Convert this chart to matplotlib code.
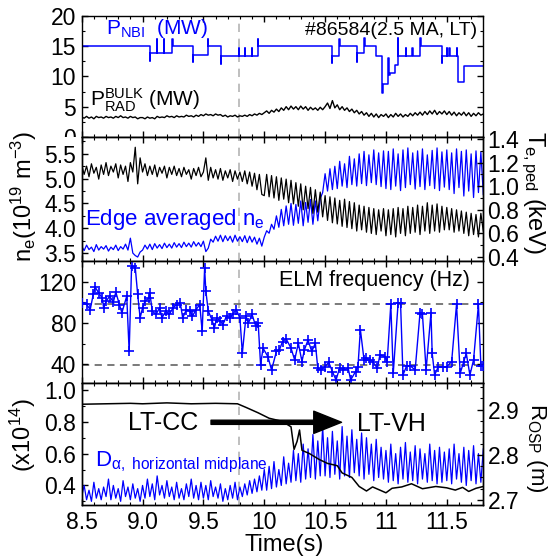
import numpy as np
import matplotlib
matplotlib.use("Agg")
import matplotlib.pyplot as plt
from matplotlib.ticker import MultipleLocator, FixedLocator, FixedFormatter
from matplotlib.transforms import Bbox, TransformedBbox

plt.rcParams['font.family'] = ['Liberation Sans', 'DejaVu Sans']
plt.rcParams['mathtext.fontset'] = 'custom'
plt.rcParams['mathtext.rm'] = 'Liberation Sans'
plt.rcParams['mathtext.it'] = 'Liberation Sans:italic'
plt.rcParams['mathtext.bf'] = 'Liberation Sans:bold'

BLUE = '#0000ff'

t_grid = np.round(8.5 + 0.02 * np.arange(166), 2)

# NBI power (MW), step signal
nbi_t = [8.50, 9.06, 9.063, 9.115, 9.118, 9.175, 9.178, 9.246, 9.249, 9.415,
         9.418, 9.535, 9.538, 9.642, 9.645, 9.79, 9.793, 9.84, 9.843, 9.90,
         9.903, 9.947, 9.95, 10.557, 10.56, 10.617, 10.62, 10.762, 10.765, 10.822,
         10.825, 10.918, 10.970, 10.973, 11.015, 11.021, 11.024, 11.030, 11.076, 11.095,
         11.098, 11.164, 11.167, 11.218, 11.221, 11.281, 11.284, 11.46, 11.463, 11.50,
         11.503, 11.52, 11.523, 11.58, 11.583, 11.595, 11.64, 11.80]
nbi_v = [15.0, 12.6, 13.9, 16.1, 13.9, 16.1, 13.9, 16.1, 15.0, 12.3,
         13.6, 16.1, 15.0, 12.0, 13.3, 14.7, 13.3, 14.7, 13.3, 14.7,
         13.3, 16.1, 15.0, 12.2, 13.3, 16.1, 15.0, 12.4, 13.9, 16.3,
         15.0, 13.3, 7.2, 8.8, 10.3, 13.0, 10.3, 10.5, 11.9, 16.3,
         13.3, 14.6, 13.3, 14.6, 13.3, 16.3, 15.0, 12.2, 13.3, 14.6,
         13.3, 14.6, 13.3, 14.6, 13.3, 9.0, 11.75, 11.75]

# bulk radiated power (MW)
prad = [3.3, 3.1, 3.4, 3.1, 3.3, 3.0, 3.4, 3.2, 3.3, 3.1, 3.4, 3.2, 3.3, 3.1, 3.4, 3.2, 3.5, 3.2, 3.3, 3.1, 3.4, 3.2, 3.3, 3.0, 3.2,
        3.2, 3.0, 3.3, 3.1, 3.2, 3.0, 3.4, 3.2, 3.3, 3.2, 3.5, 3.3, 3.4, 3.2, 3.5, 3.3, 3.4, 3.3, 3.6, 3.4, 3.5, 3.3, 3.6, 3.4, 3.7,
        3.5, 3.8, 3.6, 3.7, 3.5, 3.8, 3.6, 3.7, 3.4, 3.6, 3.3, 3.5, 3.4, 3.6, 3.3, 3.5, 3.4, 3.6, 3.4, 3.7, 3.5, 3.8, 3.6, 3.9, 3.7,
        4.0, 4.3, 3.9, 4.4, 4.1, 4.6, 4.2, 4.8, 4.4, 5.0, 4.5, 5.1, 4.6, 5.0, 4.5, 5.1, 4.6, 5.0, 4.4, 4.9, 4.5, 4.8, 4.4, 4.9, 4.5,
        5.0, 5.6, 4.7, 6.0, 4.8, 5.3, 4.5, 5.0, 4.4, 4.8, 4.2, 4.6, 4.0, 4.4, 3.8, 4.2, 3.6, 4.0, 3.4, 3.9, 3.3, 3.8, 3.2, 3.7, 3.4,
        3.8, 3.2, 3.7, 3.3, 3.9, 3.4, 3.8, 3.3, 3.7, 3.4, 3.9, 3.5, 4.0, 3.6, 4.1, 3.6, 4.2, 3.7, 4.3, 3.8, 4.4, 3.7, 4.2, 3.8, 4.3,
        3.7, 4.2, 3.6, 4.1, 3.5, 4.0, 3.6, 4.1, 3.5, 4.0, 3.4, 3.9, 3.5, 4.0, 3.6, 3.8]

# edge averaged density (1e19 m^-3)
ne_edge = [3.64, 3.55, 3.66, 3.57, 3.62, 3.53, 3.67, 3.56, 3.63, 3.58, 3.65, 3.54, 3.62, 3.57, 3.66, 3.55, 3.63, 3.58, 3.68, 3.56, 3.80, 3.50, 3.45, 3.42, 3.52,
           3.56, 3.66, 3.58, 3.68, 3.57, 3.69, 3.60, 3.67, 3.59, 3.70, 3.61, 3.68, 3.60, 3.71, 3.62, 3.69, 3.61, 3.72, 3.63, 3.70, 3.62, 3.73, 3.64, 3.71, 3.63,
           3.74, 3.53, 3.60, 3.78, 3.72, 3.84, 3.74, 3.86, 3.73, 3.85, 3.75, 3.84, 3.72, 3.86, 3.74, 3.83, 3.73, 3.85, 3.71, 3.84, 3.72, 3.82, 3.68, 3.80, 3.64,
           3.82, 3.95, 3.90, 4.08, 3.98, 4.25, 4.02, 4.38, 4.05, 4.45, 4.08, 4.50, 4.06, 4.48, 4.10, 4.55, 4.05, 4.52, 4.12, 4.58, 4.08, 4.55, 4.15, 4.60, 4.72,
           5.10, 4.75, 5.20, 4.78, 5.25, 4.80, 5.35, 4.85, 5.30, 4.82, 5.45, 4.88, 5.40, 4.85, 5.50, 4.90, 5.55, 4.86, 5.48, 4.92, 5.58, 4.88, 5.52, 4.84, 5.56,
           4.80, 5.55, 4.78, 5.60, 4.85, 5.50, 4.76, 5.58, 4.82, 5.62, 4.88, 5.52, 4.79, 5.56, 4.84, 5.60, 4.78, 5.48, 4.86, 5.57, 4.80, 5.62, 4.76, 5.54, 4.83,
           5.58, 4.78, 5.52, 4.70, 5.60, 4.82, 5.55, 4.65, 5.58, 4.75, 5.50, 4.62, 5.56, 4.72, 5.54, 4.68]

# pedestal electron temperature (keV)
te_ped = [1.18, 1.10, 1.17, 1.08, 1.19, 1.11, 1.16, 1.06, 1.18, 1.10, 1.20, 1.09, 1.17, 1.12, 1.19, 1.07, 1.18, 1.10, 1.17, 1.04, 1.20, 1.12, 1.33, 1.02, 1.24,
          1.12, 1.19, 1.09, 1.17, 1.10, 1.18, 1.08, 1.16, 1.11, 1.17, 1.07, 1.16, 1.10, 1.17, 1.09, 1.15, 1.08, 1.16, 1.10, 1.14, 1.06, 1.15, 1.09, 1.16, 1.08,
          1.12, 1.24, 1.05, 1.16, 1.07, 1.14, 1.06, 1.15, 1.05, 1.13, 1.07, 1.14, 1.04, 1.13, 1.06, 1.12, 1.04, 1.13, 1.02, 1.12, 1.00, 1.11, 0.97, 1.10, 0.93,
          0.92, 1.10, 0.91, 1.09, 0.90, 1.08, 0.88, 1.07, 0.89, 1.06, 0.86, 1.05, 0.85, 1.03, 0.83, 1.02, 0.80, 1.00, 0.81, 0.99, 0.77, 0.97, 0.78, 0.95, 0.74,
          0.92, 0.71, 0.91, 0.69, 0.90, 0.68, 0.88, 0.66, 0.89, 0.65, 0.87, 0.64, 0.86, 0.62, 0.84, 0.63, 0.83, 0.61, 0.82, 0.60, 0.81, 0.59, 0.80, 0.62, 0.81,
          0.58, 0.80, 0.59, 0.81, 0.57, 0.82, 0.60, 0.81, 0.58, 0.83, 0.60, 0.82, 0.61, 0.84, 0.59, 0.83, 0.62, 0.86, 0.60, 0.84, 0.62, 0.85, 0.61, 0.83, 0.63,
          0.82, 0.63, 0.81, 0.61, 0.80, 0.62, 0.79, 0.60, 0.78, 0.58, 0.77, 0.59, 0.76, 0.57, 0.77, 0.62]

# ELM frequency (Hz)
elm_t = [8.50, 8.54, 8.57, 8.595, 8.61, 8.64, 8.67, 8.68, 8.70, 8.73,
         8.76, 8.78, 8.81, 8.83, 8.87, 8.89, 8.91, 8.94, 8.96, 8.98,
         9.00, 9.02, 9.05, 9.06, 9.08, 9.11, 9.14, 9.16, 9.19, 9.22,
         9.25, 9.28, 9.31, 9.33, 9.36, 9.39, 9.41, 9.44, 9.47, 9.49,
         9.51, 9.52, 9.54, 9.57, 9.59, 9.61, 9.64, 9.66, 9.69, 9.72,
         9.74, 9.77, 9.80, 9.82, 9.85, 9.87, 9.90, 9.93, 9.95, 9.97,
         9.99, 10.03, 10.06, 10.10,
         10.125, 10.15, 10.18, 10.22, 10.25, 10.28, 10.31, 10.33, 10.36, 10.39,
         10.42, 10.44, 10.47, 10.50, 10.53, 10.56, 10.59, 10.62, 10.65, 10.69,
         10.71, 10.75, 10.77, 10.79, 10.82, 10.84, 10.87, 10.89, 10.93, 10.95,
         10.99, 11.01, 11.04, 11.06, 11.10, 11.12, 11.14, 11.17, 11.20, 11.24,
         11.28, 11.30, 11.33, 11.37, 11.38, 11.40, 11.43, 11.47, 11.50, 11.54,
         11.58, 11.61, 11.64, 11.66, 11.69, 11.72, 11.76, 11.78, 11.80]
elm_f = [99.5, 98, 93, 107.7, 114.8, 109, 104, 94.6, 101, 106,
         100, 110, 97.8, 89.8, 106, 52.4, 135.3, 133.7, 107.7, 84.9,
         94.6, 101, 104, 109, 91.5, 88.3, 94.6, 84.9, 91.5, 88.3,
         94.6, 97.8, 99.5, 84.9, 93, 91.5, 86.6, 93, 97.8, 71.9,
         133, 111, 91.5, 83.3, 75.2, 84.9, 81.6, 78.4, 86.6, 84.9,
         88.3, 93, 84.9, 50.7, 86.6, 80, 88.3, 76.8, 80, 39.4,
         55.6, 47.5, 34.5, 52.4,
         54, 62, 64.6, 55.6, 44.3, 60.4, 42.7, 54, 63.6, 52.4,
         60.4, 36.1, 34.5, 37.7, 42, 32.9, 24.8, 36.8, 34.5, 36.1,
         24.8, 32.9, 37.7, 73.5, 44.3, 46, 44.3, 42.7, 36.1, 49.1,
         47.5, 42.7, 98, 31.2, 99.5, 99.5, 29.6, 38.5, 38.5, 34.5,
         89.8, 88.3, 34.5, 89.8, 50.7, 29.6, 37.7, 37.7, 37.7, 42.7,
         98, 31.2, 42.7, 50.7, 29.6, 44.3, 98, 38.5, 38.5]
elm_limits = [98, 39]

# D-alpha, horizontal midplane (x1e14)
dalpha = [0.33, 0.40, 0.31, 0.37, 0.30, 0.42, 0.32, 0.38, 0.31, 0.39, 0.33, 0.44, 0.31, 0.40, 0.32, 0.38, 0.30, 0.43, 0.33, 0.39, 0.31, 0.41, 0.32, 0.38, 0.30,
          0.40, 0.32, 0.44, 0.33, 0.41, 0.31, 0.46, 0.34, 0.40, 0.32, 0.43, 0.33, 0.39, 0.31, 0.42, 0.32, 0.38, 0.31, 0.41, 0.33, 0.44, 0.32, 0.40, 0.31, 0.42,
          0.32, 0.40, 0.31, 0.43, 0.33, 0.39, 0.32, 0.41, 0.30, 0.38, 0.31, 0.40, 0.32, 0.42, 0.31, 0.39, 0.33, 0.41, 0.34, 0.43, 0.35, 0.44, 0.36, 0.46, 0.37,
          0.50, 0.37, 0.52, 0.38, 0.55, 0.39, 0.50, 0.40, 0.58, 0.41, 0.54, 0.42, 0.62, 0.43, 0.60, 0.42, 0.66, 0.44, 0.63, 0.45, 0.72, 0.44, 0.68, 0.46, 0.77,
          0.46, 0.70, 0.45, 0.74, 0.47, 0.68, 0.44, 0.77, 0.46, 0.71, 0.45, 0.75, 0.48, 0.69, 0.46, 0.73, 0.44, 0.70, 0.47, 0.66, 0.43, 0.69, 0.45, 0.64, 0.44,
          0.62, 0.42, 0.66, 0.43, 0.60, 0.41, 0.64, 0.44, 0.67, 0.42, 0.61, 0.43, 0.65, 0.41, 0.63, 0.44, 0.60, 0.42, 0.66, 0.43, 0.62, 0.41, 0.64, 0.42, 0.61,
          0.43, 0.63, 0.41, 0.66, 0.44, 0.60, 0.42, 0.64, 0.40, 0.62, 0.43, 0.65, 0.41, 0.60, 0.42, 0.63]

# outer strike point radius (m)
rosp_t = [8.5, 8.7, 8.9, 9.0, 9.2, 9.4, 9.6, 9.78, 9.85, 9.95,
          10.04, 10.15, 10.22, 10.245, 10.27, 10.29, 10.31, 10.37, 10.45, 10.52,
          10.6, 10.64, 10.72, 10.78, 10.84, 10.89, 10.95, 11.0, 11.05, 11.13,
          11.21, 11.3, 11.41, 11.5, 11.57, 11.63, 11.68, 11.74, 11.8]
rosp = [2.912, 2.913, 2.914, 2.913, 2.915, 2.913, 2.914, 2.913, 2.905, 2.893,
        2.881, 2.874, 2.862, 2.812, 2.83, 2.855, 2.81, 2.803, 2.79, 2.781,
        2.776, 2.76, 2.75, 2.73, 2.72, 2.729, 2.722, 2.716, 2.726, 2.729,
        2.736, 2.725, 2.73, 2.727, 2.722, 2.728, 2.719, 2.726, 2.73]

t_transition = 9.79
x_ticks = [8.5, 9.0, 9.5, 10.0, 10.5, 11.0, 11.5]
x_ticklabels = ['8.5', '9.0', '9.5', '10', '10.5', '11', '11.5']

fig = plt.figure(figsize=(5.51, 5.56), dpi=100)
W, H = 551.0, 556.0
left, width = 81.7 / W, 401.6 / W
rows = [(15.7, 137.0), (137.0, 261.0), (261.0, 383.0), (383.0, 505.0)]
axs = []
for i, (top, bot) in enumerate(rows):
    kw = {} if i == 0 else {'sharex': axs[0]}
    axs.append(fig.add_axes([left, 1 - bot / H, width, (bot - top) / H], **kw))
ax1, ax2, ax3, ax4 = axs
ax2r = ax2.twinx()
ax4r = ax4.twinx()

tick_fs = 16.5


def style(ax, lft=True, rgt=True):
    ax.tick_params(which='both', direction='in', top=True, bottom=True,
                   left=lft, right=rgt, labelsize=tick_fs, pad=4)
    ax.tick_params(which='major', length=4.5, width=1)
    ax.tick_params(which='minor', length=2.2, width=0.8)
    ax.xaxis.set_minor_locator(MultipleLocator(0.1))
    for s in ax.spines.values():
        s.set_linewidth(1.0)


for ax in axs:
    style(ax)
    ax.axvline(t_transition, color='#b4b4b4', lw=1.2, ls=(0, (5, 4)), zorder=0.5)
style(ax2, rgt=False)
style(ax4, rgt=False)
style(ax2r, lft=False)
style(ax4r, lft=False)
ax2r.tick_params(labelleft=False, labelright=True, labelbottom=False, pad=3)
ax4r.tick_params(labelleft=False, labelright=True, labelbottom=False, pad=3)

ax1.set_xlim(8.5, 11.8)
ax4.xaxis.set_major_locator(FixedLocator(x_ticks))
ax4.xaxis.set_major_formatter(FixedFormatter(x_ticklabels))
for ax in (ax1, ax2, ax3):
    ax.tick_params(labelbottom=False)

# panel 1: powers
ax1.plot(nbi_t, nbi_v, color=BLUE, lw=1.1, drawstyle='steps-post')
ax1.plot(t_grid, prad, color='k', lw=1.0)
ax1.set_ylim(0, 20)
ax1.set_yticks([0, 5, 10, 15, 20])
ax1.yaxis.set_minor_locator(MultipleLocator(2.5))
ax1.text(0.0605, 0.847, r'$\mathregular{P_{NBI}}$  (MW)', color=BLUE, fontsize=15,
         transform=ax1.transAxes, va='baseline')
ax1.text(0.9836, 0.841, '#86584(2.5 MA, LT)', color='k', fontsize=14,
         transform=ax1.transAxes, va='baseline', ha='right')
ax1.text(0.021, 0.256, r'$\mathregular{P_{RAD}^{BULK}}$ (MW)', color='k', fontsize=15,
         transform=ax1.transAxes, va='baseline')
# the "0" label of the top panel is cut at the panel border, as in the source figure
clip = TransformedBbox(Bbox([[0, 1 - 137.0 / H], [left, 1]]), fig.transFigure)
for tk in ax1.yaxis.get_major_ticks():
    tk.label1.set_clip_box(clip)
    tk.label1.set_clip_on(True)

# panel 2: edge density and pedestal temperature
ax2.plot(t_grid, ne_edge, color=BLUE, lw=0.9)
ax2.set_ylim(3.34, 5.84)
ax2.set_yticks([3.5, 4.0, 4.5, 5.0, 5.5])
ax2.set_yticklabels(['3.5', '4.0', '4.5', '5.0', '5.5'])
ax2.yaxis.set_minor_locator(MultipleLocator(0.25))
ax2r.plot(t_grid, te_ped, color='k', lw=0.9)
ax2r.set_ylim(0.366, 1.417)
ax2r.set_yticks([0.4, 0.6, 0.8, 1.0, 1.2, 1.4])
ax2r.set_yticklabels(['0.4', '0.6', '0.8', '1.0', '1.2', '1.4'])
ax2r.yaxis.set_minor_locator(MultipleLocator(0.1))
ax2.set_ylabel(r'$\mathregular{n_e(10^{19}\ m^{-3})}$', fontsize=17)
ax2.yaxis.set_label_coords(-0.107, 0.52)
ax2r.set_ylabel(r'$\mathregular{T_{e,ped}}$ (keV)', fontsize=17, rotation=270, va='center')
ax2r.yaxis.set_label_coords(1.123, 0.55)
ax2.text(0.008, 0.29, r'Edge averaged $\mathregular{n_e}$', color=BLUE, fontsize=16,
         transform=ax2.transAxes, va='baseline')

# panel 3: ELM frequency
for lvl in elm_limits:
    ax3.axhline(lvl, color='#707070', lw=1.3, ls=(0, (4, 3)), zorder=1)
ax3.plot(elm_t, elm_f, color=BLUE, lw=1.0, marker='+', ms=7.5, mew=1.2, zorder=3)
ax3.set_ylim(21.9, 140)
ax3.set_yticks([40, 80, 120])
ax3.yaxis.set_minor_locator(MultipleLocator(20))
ax3.text(0.492, 0.795, 'ELM frequency (Hz)', fontsize=15.5, transform=ax3.transAxes,
         va='baseline')

# panel 4: D-alpha and strike point
ax4.plot(t_grid, dalpha, color=BLUE, lw=0.9)
ax4.set_ylim(0.277, 1.044)
ax4.set_yticks([0.4, 0.6, 0.8, 1.0])
ax4.set_yticklabels(['0.4', '0.6', '0.8', '1.0'])
ax4.yaxis.set_minor_locator(MultipleLocator(0.1))
ax4r.plot(rosp_t, rosp, color='k', lw=1.1)
ax4r.set_ylim(2.689, 2.959)
ax4r.set_yticks([2.7, 2.8, 2.9])
ax4r.set_yticklabels(['2.7', '2.8', '2.9'])
ax4r.yaxis.set_minor_locator(MultipleLocator(0.025))
ax4.set_ylabel(r'$\mathregular{(x10^{14})}$', fontsize=17)
ax4.yaxis.set_label_coords(-0.110, 0.57)
ax4r.set_ylabel(r'$\mathregular{R_{OSP}}$ (m)', fontsize=16, rotation=270, va='center')
ax4r.yaxis.set_label_coords(1.132, 0.47)
ax4.set_xlabel('Time(s)', fontsize=17)
ax4.xaxis.set_label_coords(0.504, -0.235)
ax4r.text(0.033, 0.32, r'$\mathregular{D_{\alpha,\ horizontal\ midplane}}$', color=BLUE,
          fontsize=16, transform=ax4.transAxes, va='baseline')
ax4r.text(0.29, 0.615, 'LT-CC', fontsize=18, transform=ax4.transAxes, ha='right',
          va='baseline')
ax4r.text(0.686, 0.609, 'LT-VH', fontsize=18, transform=ax4.transAxes, va='baseline')
ax4r.annotate('', xy=(0.647, 0.678), xytext=(0.322, 0.678),
              xycoords=ax4.transAxes, textcoords=ax4.transAxes,
              arrowprops=dict(width=3.0, headwidth=16, headlength=20, color='k', shrink=0))

fig.savefig('out.png', dpi=100)
